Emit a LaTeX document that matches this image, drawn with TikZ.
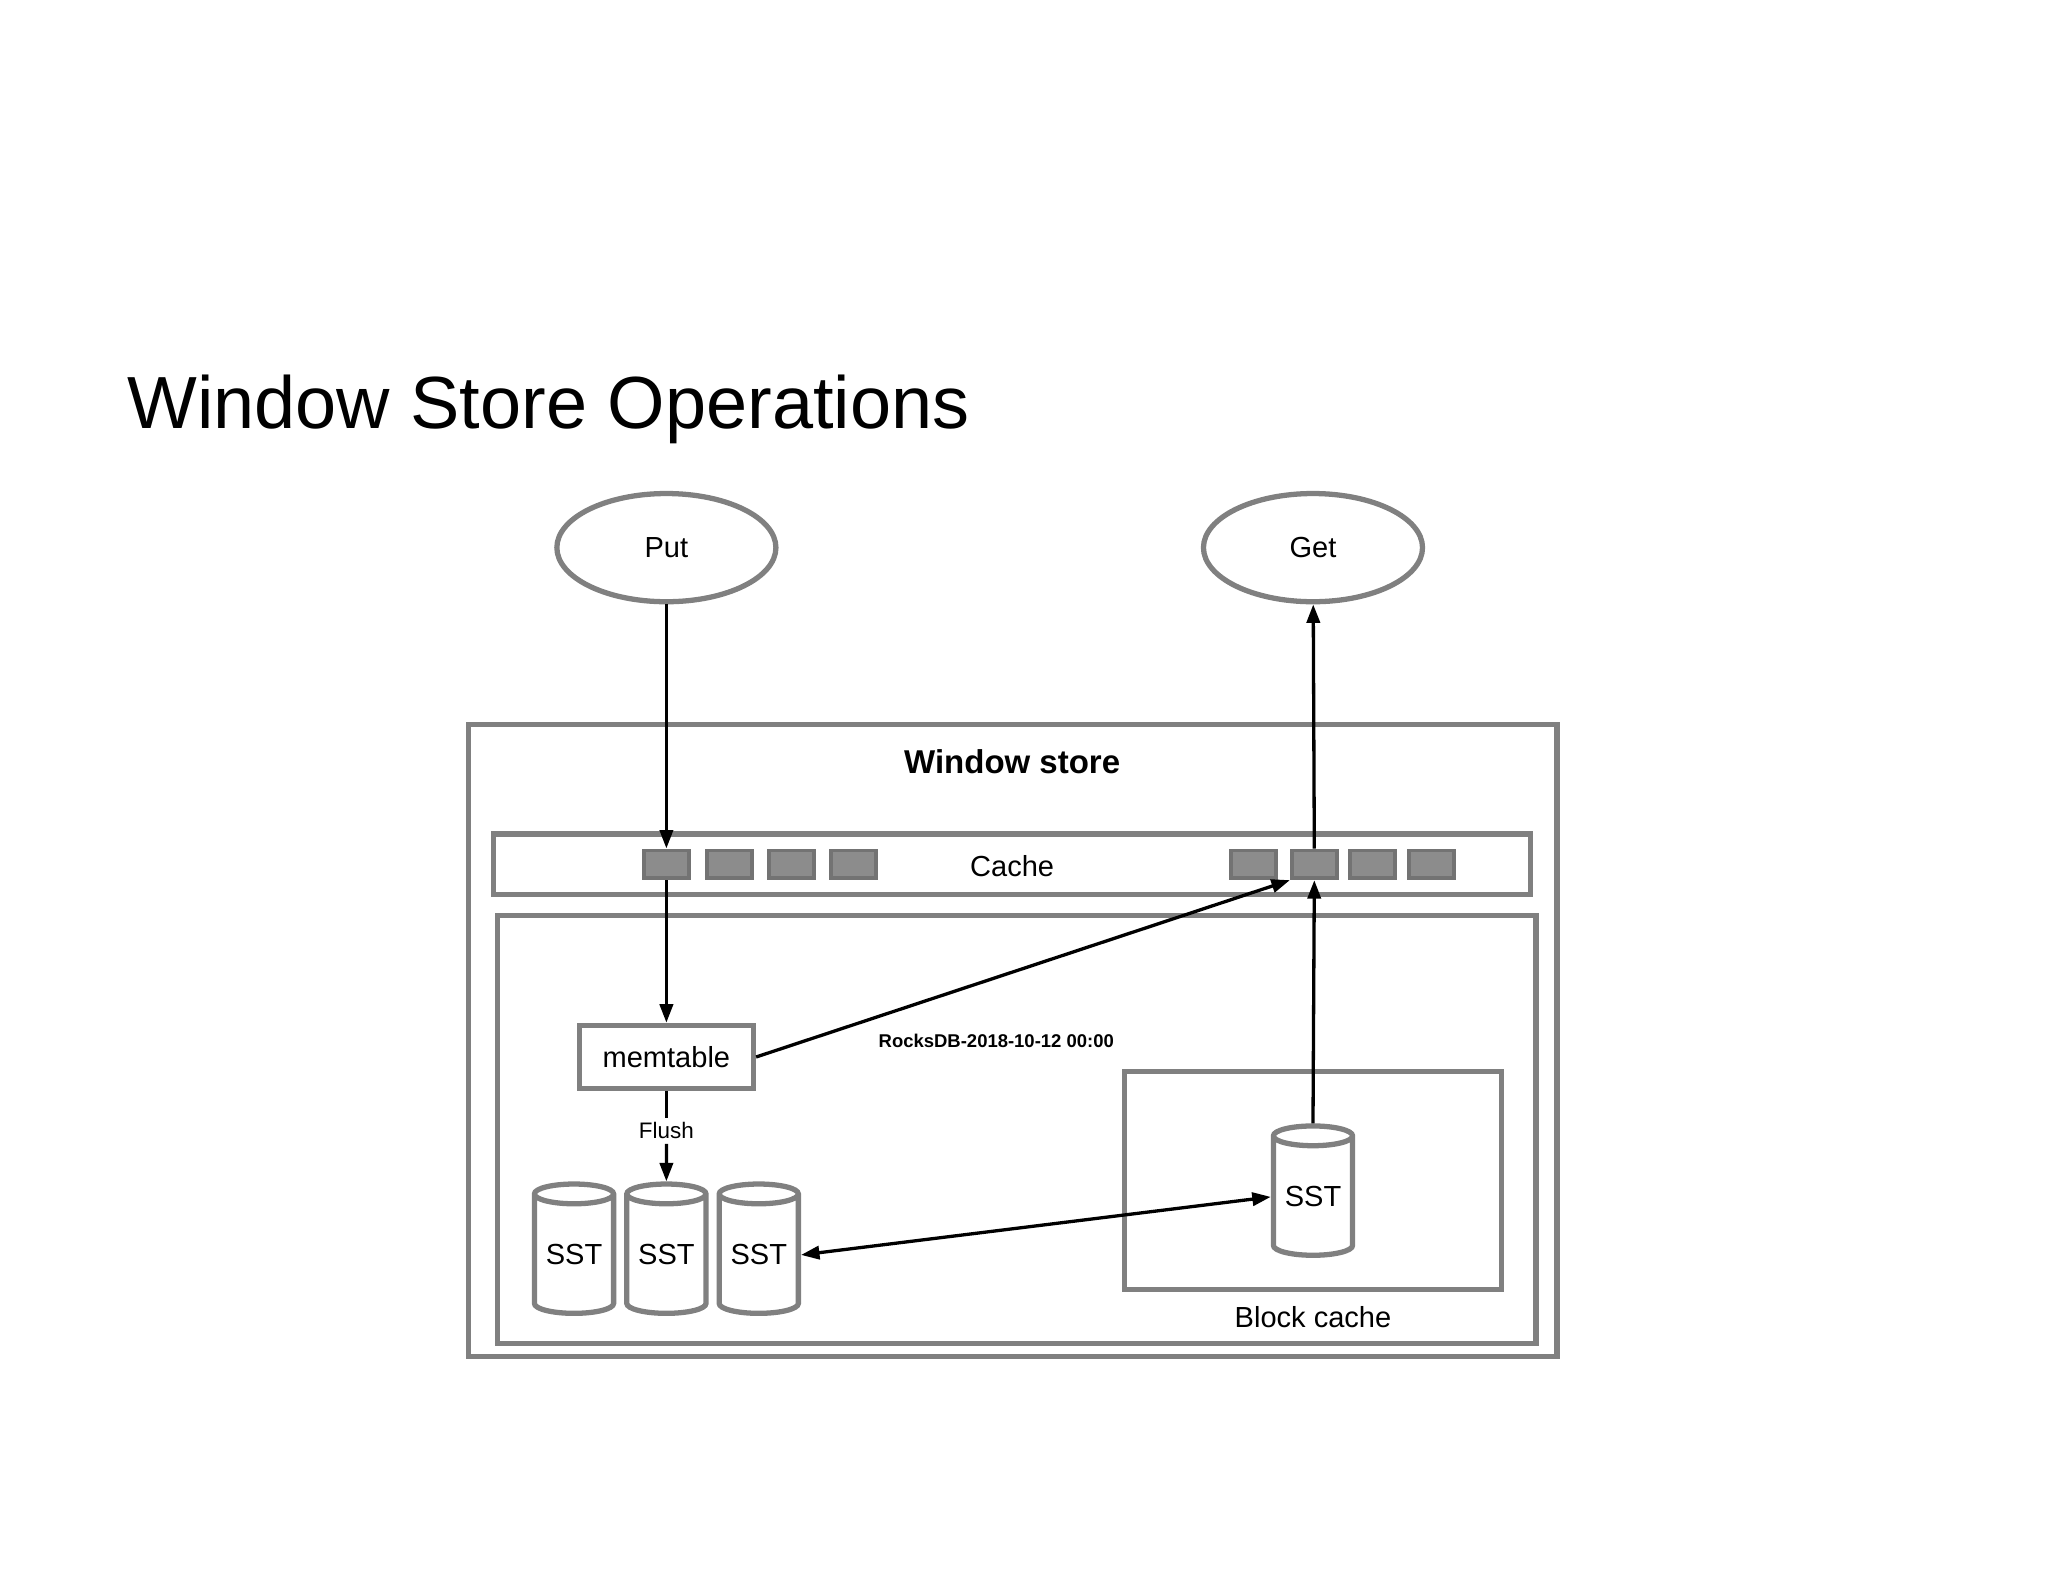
\documentclass[tikz,border=0pt]{standalone}
\usepackage{fontspec}
\setmainfont{Liberation Sans}
\usetikzlibrary{shapes.geometric,arrows.meta}
\begin{document}
\begin{tikzpicture}[x=1pt,y=-1pt,
  gl/.style={draw=black!50,line width=4pt},
  cb/.style={draw=black!55,fill=black!45,line width=3pt,minimum width=34pt,minimum height=21pt,inner sep=0pt},
  sst/.style={cylinder,shape border rotate=90,aspect=0.35,draw=black!50,line width=4pt,fill=white,minimum width=60pt,minimum height=98pt,inner sep=0pt,font=\fontsize{22}{26}\selectfont},
  ar/.style={-{Triangle[length=14pt,width=10pt]},line width=2.5pt,black},
  lab/.style={font=\fontsize{22}{26}\selectfont}]
\useasboundingbox (0,0) rectangle (1552,1199);
\node[anchor=base west,font=\fontsize{56}{60}\selectfont] (title) at (93,325) {Window Store Operations};
\node[gl,ellipse,minimum width=166pt,minimum height=82pt,lab] (put) at (505,415) {Put};
\node[gl,ellipse,minimum width=166pt,minimum height=82pt,lab] (get) at (995,415) {Get};
\draw[gl] (355,549) rectangle (1180,1028);
\node[font=\bfseries\fontsize{25}{30}\selectfont] (ws) at (767,577) {Window store};
\draw[gl] (374,632) rectangle (1160,678);
\node[lab] (cache) at (767,656) {Cache};
\node[cb] (c1) at (505,655) {};
\node[cb] (c2) at (553,655) {};
\node[cb] (c3) at (600,655) {};
\node[cb] (c4) at (647,655) {};
\node[cb] (c5) at (950,655) {};
\node[cb] (c6) at (996,655) {};
\node[cb] (c7) at (1040,655) {};
\node[cb] (c8) at (1085,655) {};
\draw[gl] (377,694) rectangle (1164,1018);
\node[gl,minimum width=132pt,minimum height=48pt,inner sep=0pt,lab] (mem) at (505,801) {memtable};
\node[font=\bfseries\fontsize{14}{17}\selectfont] (rdb) at (755,789) {RocksDB-2018-10-12 00:00};
\draw[gl] (852,812) rectangle (1138,977);
\node[lab] (bc) at (995,998) {Block cache};
\node[sst] (s1) at (435,951) {SST};
\node[sst] (s2) at (505,951) {SST};
\node[sst] (s3) at (575,951) {SST};
\node[sst] (s4) at (995,907) {SST};
\node[font=\fontsize{17}{20}\selectfont] (fl) at (505,857) {Flush};
\draw[ar] (put) -- (c1.north);
\draw[ar] (c1.south) -- (mem.north);
\draw[line width=2.5pt] (mem.south) -- (fl.north);
\draw[ar] (fl.south) -- (s2.north);
\draw[ar] (mem.east) -- (c6.south west);
\draw[ar] (s4.north) -- (c6.south);
\draw[ar] (c6.north) -- (get);
\draw[{Triangle[length=14pt,width=10pt]}-{Triangle[length=14pt,width=10pt]},line width=2.5pt] (s3.east) -- (s4.west);
\end{tikzpicture}
\end{document}
